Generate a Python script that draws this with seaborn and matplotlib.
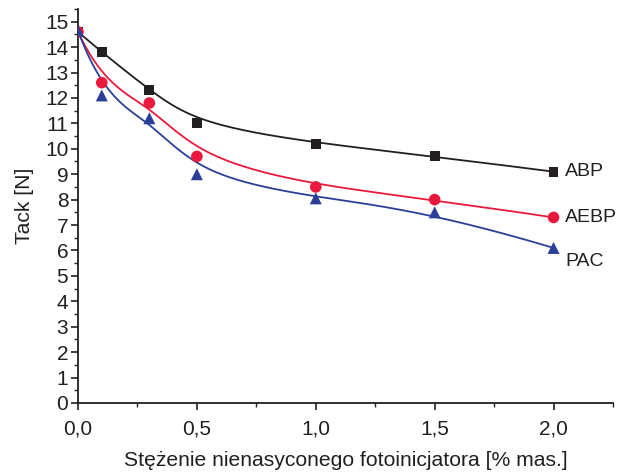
import numpy as np
import pandas as pd
import matplotlib
matplotlib.use("Agg")
import matplotlib.pyplot as plt
import seaborn as sns
from matplotlib.ticker import MultipleLocator, FuncFormatter

conc = [0.0, 0.1, 0.3, 0.5, 1.0, 1.5, 2.0]
abp = [14.6, 13.8, 12.3, 11.0, 10.2, 9.7, 9.1]
aebp = [14.6, 12.6, 11.8, 9.7, 8.5, 8.0, 7.3]
pac = [14.65, 12.1, 11.2, 9.0, 8.05, 7.5, 6.1]
series_names = ["ABP", "AEBP", "PAC"]

sns.set_theme(style="ticks")
plt.rcParams['font.family'] = ['Liberation Sans', 'DejaVu Sans']

colors = {"ABP": "#231f20", "AEBP": "#e8193c", "PAC": "#2b3f99"}
markers = {"ABP": "s", "AEBP": "o", "PAC": "^"}
msize = {"ABP": 50, "AEBP": 70, "PAC": 75}


def bspline(px, py, n=300, k=3):
    P = np.column_stack([px, py])
    m = len(P)
    inner = np.arange(1, m - k)
    knots = np.concatenate([np.zeros(k + 1), inner, np.full(k + 1, m - k)]).astype(float)
    ts = np.linspace(0, m - k, n)
    out = []
    for t in ts:
        if t >= knots[-1]:
            out.append(P[-1]); continue
        s = np.searchsorted(knots, t, side='right') - 1
        d = [P[j + s - k].copy() for j in range(k + 1)]
        for r in range(1, k + 1):
            for j in range(k, r - 1, -1):
                i = j + s - k
                a = (t - knots[i]) / (knots[i + 1 + k - r] - knots[i])
                d[j] = (1 - a) * d[j - 1] + a * d[j]
        out.append(d[k])
    out = np.array(out)
    return out[:, 0], out[:, 1]


fig = plt.figure(figsize=(6.17, 4.72), dpi=100)
ax = fig.add_axes([0.1264, 0.1462, 0.8671, 0.8348])

for name, vals in zip(series_names, [abp, aebp, pac]):
    cx, cy = bspline(conc, vals)
    curve = pd.DataFrame({"x": cx, "y": cy, "i": np.arange(len(cx))})
    sns.lineplot(data=curve, x="x", y="y", sort=False, estimator=None,
                 color=colors[name], lw=1.3, ax=ax)
    pts = pd.DataFrame({"x": conc, "y": vals})
    sns.scatterplot(data=pts, x="x", y="y", marker=markers[name], s=msize[name],
                    color=colors[name], edgecolor="none", ax=ax, zorder=5)

ax.text(2.05, abp[-1], "ABP", fontsize=14, va="center", ha="left", color="#231f20")
ax.text(2.05, aebp[-1], "AEBP", fontsize=14, va="center", ha="left", color="#231f20")
ax.text(2.05, 5.55, "PAC", fontsize=14, va="center", ha="left", color="#231f20")

ax.set_xlim(0, 2.25)
ax.set_ylim(0, 15.5)
ax.xaxis.set_major_locator(MultipleLocator(0.5))
ax.xaxis.set_minor_locator(MultipleLocator(0.25))
ax.yaxis.set_major_locator(MultipleLocator(1))
ax.yaxis.set_minor_locator(MultipleLocator(0.5))
ax.xaxis.set_major_formatter(FuncFormatter(lambda v, p: f"{v:.1f}".replace(".", ",")))
ax.tick_params(axis="both", which="major", direction="out", length=5, width=1.2,
               labelsize=15, color="#231f20", labelcolor="#231f20")
ax.tick_params(axis="both", which="minor", direction="out", length=3, width=1.0, color="#231f20")
ax.tick_params(axis="x", pad=7)
ax.tick_params(axis="y", pad=2)

for s in ["top", "right"]:
    ax.spines[s].set_visible(False)
for s in ["left", "bottom"]:
    ax.spines[s].set_linewidth(1.3)
    ax.spines[s].set_color("#231f20")

ax.set_xlabel("Stężenie nienasyconego fotoinicjatora [% mas.]", fontsize=15.2,
              color="#231f20", labelpad=9)
ax.set_ylabel("Tack [N]", fontsize=15.2, color="#231f20", labelpad=8)
ax.grid(False)

fig.savefig("out.png", dpi=100)
